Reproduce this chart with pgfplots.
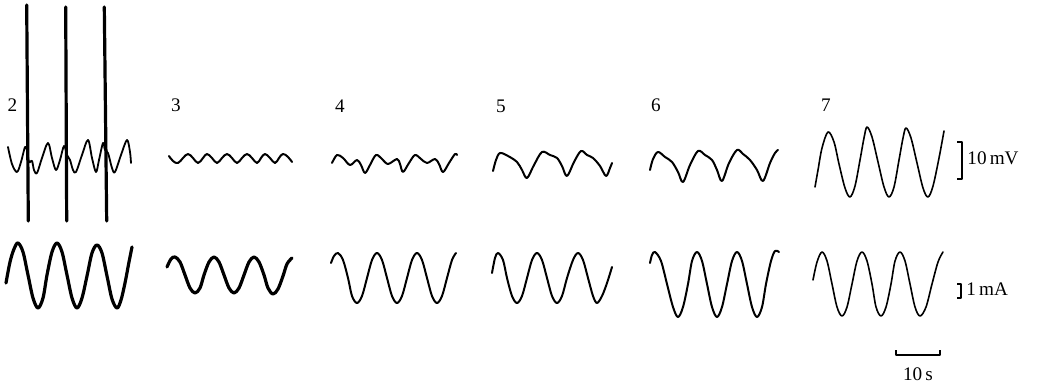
\documentclass[border=0pt]{standalone}
\usepackage{pgfplots}
\pgfplotsset{compat=1.18}
\usepackage{fontspec}
\setmainfont{Liberation Serif}

% Recordings in runs 2-7: membrane potential (top row) and applied current (bottom row).
% Coordinates are drawing units, y measured downward.
\tikzset{
  trace/.style={smooth, tension=0.55, line width=1pt},
  thick trace/.style={smooth, tension=0.55, line width=1.6pt},
  lbl/.style={font=\fontsize{9.6}{11}\selectfont, inner sep=0pt},
}
\begin{document}
\begin{tikzpicture}
\begin{axis}[
  scale only axis,
  width=518.5pt, height=192pt,
  xmin=0, xmax=1037, ymin=0, ymax=384,
  y dir=reverse,
  axis lines=none,
  clip=false,
  every axis plot/.append style={black, no markers, line join=round, line cap=round},
]
\path (axis cs:0,0) rectangle (axis cs:1037,384);

% ---- run 2 ----
\addplot[trace, line width=0.9pt] coordinates {
(8,147)(12,164)(17,172)(21,162)(25,147)(27,150)(29,162)(32,161)(34,170)(37,173)
(42,158)(48,143)(52,158)(56,170)(60,160)(64,146)(67,155)(70,160)(73,170)(76,172)
(82,155)(88,140)(92,158)(96,172)(99,160)(103,143)(105,150)(108,153)(112,168)(115,172)
(121,155)(127,140)(130,152)(131,163)};
% action potentials
\addplot[line width=1.6pt] coordinates {(26.7,5)(28.3,221)};
\addplot[line width=1.6pt] coordinates {(65.7,7)(66.7,221)};
\addplot[line width=1.6pt] coordinates {(104.3,7)(106.7,221)};
\addplot[thick trace] coordinates {
(6,283)(10,262)(14,249)(18,243)(23,252)(28,275)(33,298)(38,308)(43,298)(47,275)
(52,252)(57,243)(62,252)(67,275)(72,298)(77,308)(82,298)(87,276)(92,253)(97,245)
(102,253)(107,276)(112,299)(117,308)(121,300)(125,283)(129,262)(132,247)};

% ---- run 3 ----
\addplot[trace, tension=0.7] coordinates {
(169,156)(173,161)(178,163)(183,158)(188,154)(193,158)(198,163)(203,158)(207,154)
(212,158)(217,163)(222,158)(227,154)(232,158)(237,163)(242,158)(247,154)(252,158)
(257,163)(261,158)(265,154)(270,158)(275,163)(279,158)(283,154)(288,157)(292,162)};
\addplot[thick trace] coordinates {
(167,267)(171,259)(175,257)(180,262)(185,275)(190,288)(195,293)(200,288)(204,275)
(209,262)(214,257)(219,262)(224,275)(229,288)(234,293)(239,288)(244,275)(249,262)
(254,257)(259,262)(264,275)(268,288)(273,294)(278,289)(283,276)(287,264)(292,258)};

% ---- run 4 ----
\addplot[trace] coordinates {
(332,163)(337,155)(343,158)(350,165)(357,160)(361,165)(365,173)(370,165)(376,155)
(382,159)(388,164)(397,159)(400,164)(403,172)(409,163)(415,155)(421,159)(427,163)
(435,159)(439,164)(443,172)(449,163)(455,154)(457,155)};
\addplot[trace] coordinates {
(331,263)(334,256)(338,253)(343,260)(348,278)(352,296)(357,303)(362,296)(367,278)
(372,260)(377,253)(382,260)(387,278)(392,296)(397,303)(402,296)(407,278)(412,260)
(417,253)(422,260)(427,278)(432,296)(437,303)(442,296)(447,278)(452,260)(456,253)};

% ---- run 5 ----
\addplot[trace] coordinates {
(493,171)(496,160)(500,153)(508,156)(517,162)(522,170)(527,178)(534,165)(542,152)
(550,155)(557,158)(562,166)(567,176)(574,162)(581,151)(587,155)(593,158)(600,166)
(606,176)(610,168)(612,163)};
\addplot[trace] coordinates {
(492,273)(495,258)(498,253)(503,260)(507,278)(512,296)(517,303)(522,296)(527,278)
(532,260)(537,253)(542,260)(547,278)(552,296)(557,303)(562,296)(567,278)(573,260)
(578,253)(583,260)(588,278)(593,296)(597,303)(602,296)(607,283)(612,267)};

% ---- run 6 ----
\addplot[trace] coordinates {
(650,170)(653,159)(658,152)(665,157)(672,162)(678,172)(683,182)(690,165)(698,151)
(705,155)(712,160)(717,170)(722,181)(729,163)(737,150)(743,154)(750,160)(757,170)
(763,181)(770,163)(775,153)(778,150)};
\addplot[trace] coordinates {
(650,263)(652,255)(655,252)(661,261)(667,284)(673,307)(678,317)(683,307)(688,284)
(692,261)(697,252)(702,261)(707,284)(712,307)(717,317)(722,307)(727,284)(732,261)
(737,252)(742,261)(747,284)(752,307)(757,317)(762,307)(766,284)(771,261)(775,251)(779,252)};

% ---- run 7 ----
\addplot[trace, line width=0.8pt] coordinates {
(815,187)(818,170)(822,148)(828,132)(834,142)(839,164)(845,188)(850,197)(855,186)
(860,160)(864,138)(867,127)(872,137)(878,162)(884,187)(889,197)(894,187)(899,160)
(903,138)(906,128)(911,138)(917,163)(923,188)(928,197)(933,186)(939,158)(944,131)};
\addplot[trace, line width=0.8pt] coordinates {
(813,280)(817,262)(822,252)(827,261)(832,284)(837,307)(842,316)(847,307)(852,284)
(857,261)(862,252)(867,261)(872,284)(876,307)(881,316)(886,307)(891,284)(895,261)
(900,252)(905,261)(910,284)(915,307)(920,316)(926,307)(932,284)(938,262)(943,252)};

% ---- calibration bars ----
\addplot[line width=1.2pt, line cap=butt] coordinates {(957,142)(962,142)(962,179)(957,179)};
\addplot[line width=1.2pt, line cap=butt] coordinates {(957,284)(961,284)(961,298)(957,298)};
\addplot[line width=1.2pt, line cap=butt] coordinates {(896,350)(896,355)(940,355)(940,350)};

\node[lbl, anchor=base west] at (axis cs:967,165) {10\,mV};
\node[lbl, anchor=base west] at (axis cs:966,296) {1\,mA};
\node[lbl, anchor=base] at (axis cs:918,380) {10\,s};

% run numbers
\node[lbl, anchor=base] at (axis cs:12.5,112) {2};
\node[lbl, anchor=base] at (axis cs:176,112) {3};
\node[lbl, anchor=base] at (axis cs:340,113) {4};
\node[lbl, anchor=base] at (axis cs:501,113) {5};
\node[lbl, anchor=base] at (axis cs:656,112) {6};
\node[lbl, anchor=base] at (axis cs:826,112) {7};
\end{axis}
\end{tikzpicture}
\end{document}
